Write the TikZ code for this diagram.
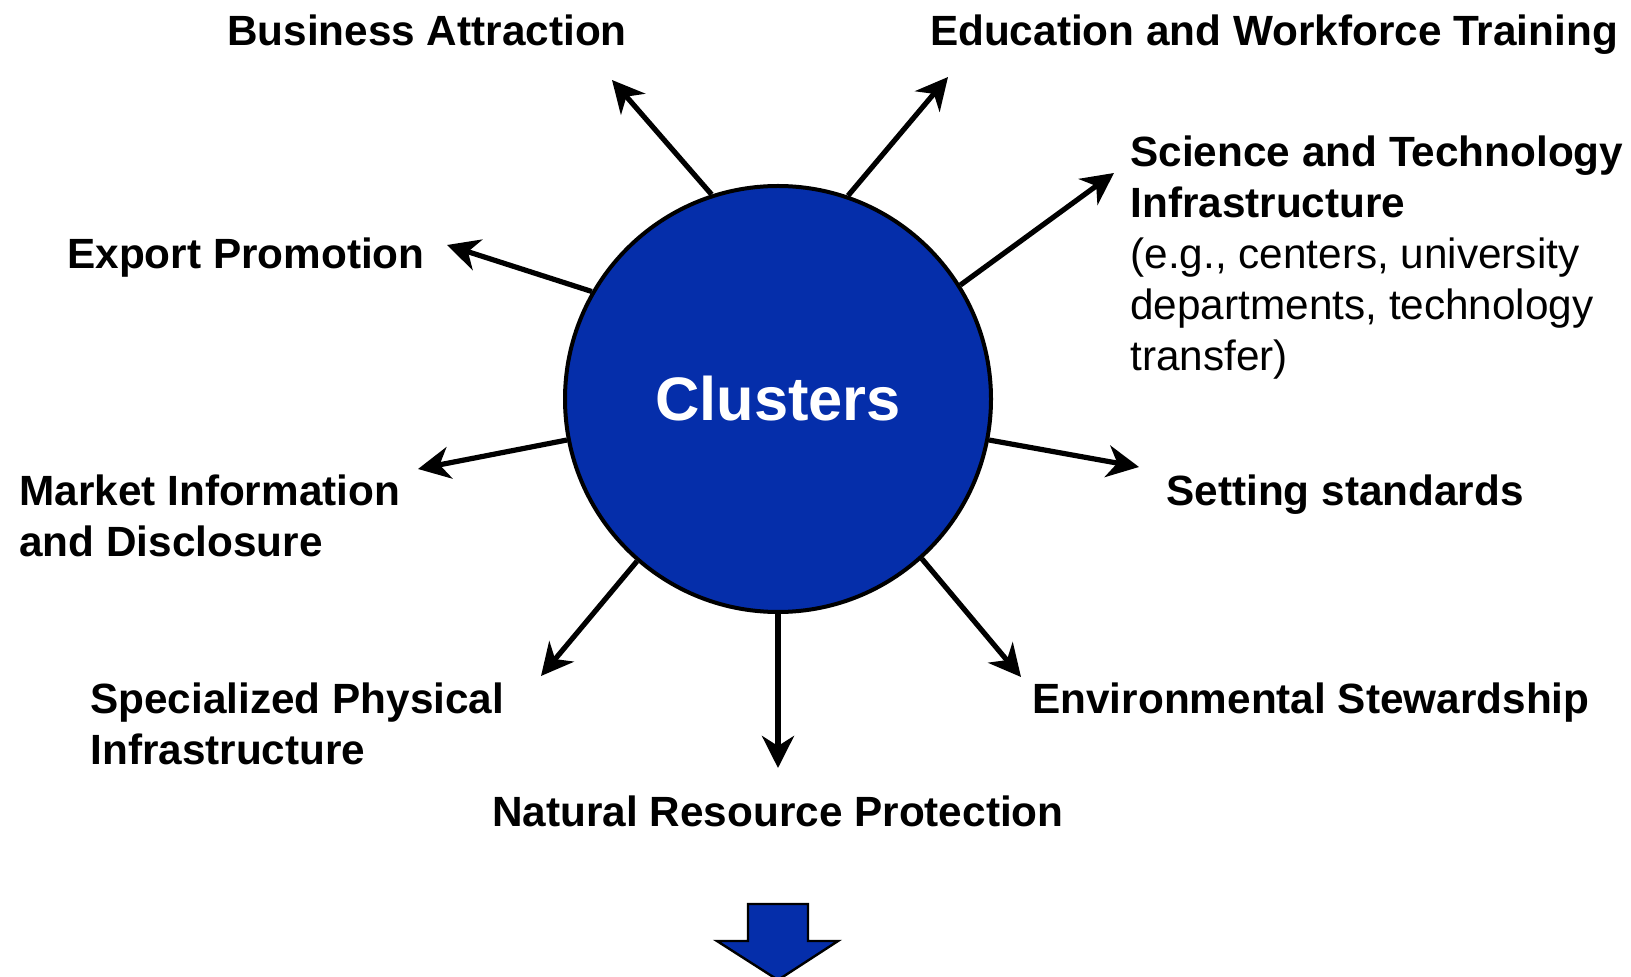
\documentclass[tikz,border=0pt]{standalone}
\usepackage{fontspec}
\setmainfont{Liberation Sans}
\usetikzlibrary{arrows.meta}
\definecolor{clblue}{RGB}{5,46,170}
\begin{document}
\begin{tikzpicture}[x=0.5pt,y=-0.5pt,
  lbl/.style={inner sep=0pt,font=\fontsize{21.15}{25.5}\selectfont\bfseries,align=left},
  arr/.style={line width=2.6pt,-{Stealth[length=16pt,width=16pt,inset=5pt]}},
  hub/.style={circle,draw=black,line width=2pt,fill=clblue,minimum size=213pt,inner sep=0pt,
    text=white,font=\fontsize{30.7}{36}\selectfont\bfseries}]
\useasboundingbox (0,0) rectangle (1631,977);
\node[hub] (c) at (778,399) {Clusters};
% labels
\node[lbl,anchor=base] (ba) at (427,46) {Business Attraction};
\node[lbl,anchor=base] (ed) at (1274,46) {Education and Workforce Training};
\node[lbl,anchor=base west] (sc) at (1130,371) {Science and Technology\\Infrastructure\\\mdseries (e.g., centers, university\\\mdseries departments, technology\\\mdseries transfer)};
\node[lbl,anchor=base] (ex) at (246,269) {Export Promotion};
\node[lbl,anchor=base west] (mk) at (19,557) {Market Information\\and Disclosure};
\node[lbl,anchor=base west] (st) at (1166,506) {Setting standards};
\node[lbl,anchor=base west] (sp) at (90,764) {Specialized Physical\\Infrastructure};
\node[lbl,anchor=base west] (en) at (1032,713) {Environmental Stewardship};
\node[lbl,anchor=base] (na) at (778,826) {Natural Resource Protection};
% arrow tips
\coordinate (t1) at (612,80);
\coordinate (t2) at (948,77);
\coordinate (t3) at (1114,173);
\coordinate (t4) at (447,245);
\coordinate (t5) at (418,469);
\coordinate (t6) at (1139,467);
\coordinate (t7) at (541,676);
\coordinate (t8) at (1021,677);
\coordinate (t9) at (778,768);
\draw[arr] (c.108.4) -- (t1);
\draw[arr] (c.71.1) -- (t2);
\draw[arr] (c.32.2) -- (t3);
\draw[arr] (c.150.2) -- (t4);
\draw[arr] (c.191.5) -- (t5);
\draw[arr] (c.-11.6) -- (t6);
\draw[arr] (c.229.5) -- (t7);
\draw[arr] (c.-48.5) -- (t8);
\draw[arr] (c.270) -- (t9);
% block arrow
\draw[fill=clblue,draw=black,line width=1.2pt,line join=miter]
  (748,904) -- (808,904) -- (808,941) -- (838,941) -- (778,980) -- (717,941) -- (748,941) -- cycle;
\end{tikzpicture}
\end{document}
